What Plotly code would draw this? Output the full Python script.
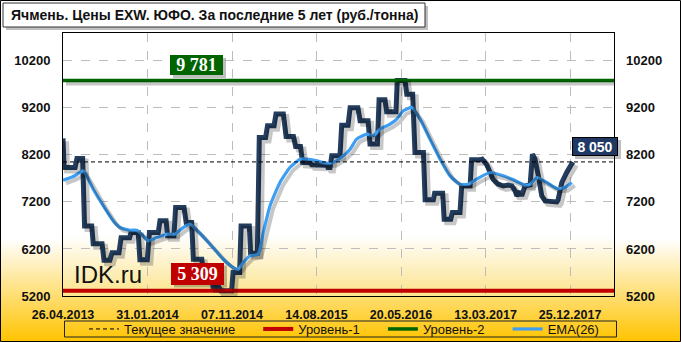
import plotly.graph_objects as go

# ---------------- data ----------------
tick_idx = [0, 40, 80, 120, 160, 200, 240]
tick_dates = ["26.04.2013", "31.01.2014", "07.11.2014", "14.08.2015",
              "20.05.2016", "13.03.2017", "25.12.2017"]
y_ticks = [5200, 6200, 7200, 8200, 9200, 10200]

price_idx = [0, 0.5, 5.7, 6.6, 9.3, 10.2, 13.6, 14.3, 18.5, 19.4, 22.2, 23.2, 26.5, 27.5,
             31.5, 32.2, 35.6, 36.4, 39.9, 40.9, 45.1, 45.9, 48.8, 49.5, 52.5, 53.3, 57.3,
             58.3, 60.9, 61.7, 65.7, 66.5, 70.1, 71.0, 73.8, 74.6, 79.8, 80.5, 83.6, 84.3,
             88.2, 88.8, 92.0, 92.9, 95.9, 96.8, 99.9, 100.8, 104.3, 105.6, 109.1, 110.1,
             112.4, 113.4, 116.9, 117.7, 124.8, 125.4, 126.4, 127.2, 131.1, 131.9, 134.9,
             135.9, 139.6, 140.6, 144.4, 145.3, 148.8, 149.6, 152.4, 153.2, 157.6, 158.2,
             161.9, 162.7, 165.5, 166.6, 170.6, 171.4, 175.3, 175.9, 179.7, 180.4, 183.5,
             184.3, 187.9, 188.7, 192.7, 193.4, 197.4, 198.4, 200.6, 202.1, 203.5, 205.9,
             208.3, 210.7, 212.5, 214.0, 214.8, 216.3, 217.1, 218.7, 221.1, 222.2, 223.4,
             225.0, 226.6, 228.2, 230.5, 233.7, 234.3, 236.1, 238.4, 241.3]
price_val = [8550, 7930, 7930, 8120, 8120, 6690, 6690, 6310, 6310, 5960, 5960, 6120, 6120, 6440,
             6440, 6550, 6550, 5970, 5970, 6550, 6550, 6800, 6800, 6480, 6480, 7080, 7080,
             6760, 6760, 5980, 5980, 5700, 5700, 5390, 5390, 5309, 5309, 5700, 5700, 6690,
             6690, 6110, 6110, 8570, 8570, 8820, 8820, 9066, 9066, 8590, 8590, 8380,
             8380, 8040, 8030, 7990, 7980, 7930, 7930, 8180, 8180, 8830, 8830,
             9200, 9200, 8925, 8925, 8430, 8430, 9370, 9370, 9116, 9116, 9781,
             9781, 9490, 9490, 8250, 8250, 7244, 7244, 7386, 7386, 6832, 6832,
             6974, 6974, 7542, 7542, 8095, 8095, 8109, 7990, 7860, 7683, 7577,
             7541, 7560, 7541, 7435, 7329, 7420, 7329, 7541, 7560, 8215, 8109,
             7754, 7329, 7222, 7222, 7200, 7240, 7612, 7825, 8050]

ema_idx = [0, 4.9, 9.6, 14.3, 19.1, 23.8, 27.0, 31.7, 34.9, 38.0, 40.4, 44.4, 49.1, 53.0,
           56.9, 60.1, 64.9, 69.6, 75.9, 80.6, 83.0, 85.3, 88.5, 92.4, 94.8, 98.0, 102.7,
           107.4, 112.2, 115.4, 120.1, 124.8, 128.0, 132.7, 135.9, 139.0, 143.8, 146.9,
           150.1, 154.8, 158.0, 161.1, 165.1, 169.0, 173.7, 178.5, 183.2, 187.9, 191.9,
           195.8, 202.1, 208.4, 213.2, 218.7, 221.1, 224.3, 229.0, 233.7, 237.6, 240.8]
ema_val = [7660, 7740, 7860, 7470, 7116, 6796, 6655, 6598, 6598, 6477, 6371, 6442, 6513, 6513,
           6655, 6726, 6530, 6300, 5981, 5804, 5768, 5910, 6052, 6087, 6548, 7116, 7612,
           7931, 8108, 8108, 8073, 8023, 8038, 8179, 8321, 8534, 8640, 8605,
           8747, 8853, 8959, 9136, 9207, 8959, 8534, 8108, 7754, 7577, 7577,
           7683, 7825, 7754, 7669, 7556, 7570, 7719, 7612, 7485, 7506, 7612]

current_value = 8050
level_1 = 5309
level_2 = 9781

title_text = "Ячмень. Цены EXW. ЮФО. За последние 5 лет (руб./тонна)"
legend_names = ["Текущее значение", "Уровень-1", "Уровень-2", "EMA(26)"]

# ---------------- geometry / style ----------------
W_FIG, H_FIG = 681, 342
L, R, T, B = 63, 614, 33, 296
PW, PH = R - L, B - T
X_RANGE = [0, 260.8]
Y_RANGE = [5200, 10790]


def px(x):
    return (x - L) / PW


def py(y):
    return (B - y) / PH


SH = 3  # shadow offset in px
kx = (X_RANGE[1] - X_RANGE[0]) / PW
ky = (Y_RANGE[1] - Y_RANGE[0]) / PH

C_PRICE = "#233D5E"
C_EMA = "#3E9EF2"
C_GREEN = "#006400"
C_RED = "#C00000"
SHADOW = "rgba(0,0,0,0.22)"

fig = go.Figure()

# shadows (drawn through shifted invisible axes)
for xs, ys, w in [(X_RANGE, [level_2] * 2, 4), (price_idx, price_val, 6), (ema_idx, ema_val, 4)]:
    fig.add_trace(go.Scatter(x=xs, y=ys, mode="lines", xaxis="x2", yaxis="y3",
                             line=dict(color=SHADOW, width=w), showlegend=False,
                             hoverinfo="skip"))

fig.add_trace(go.Scatter(x=price_idx, y=price_val, mode="lines",
                         line=dict(color=C_PRICE, width=5), showlegend=False, name="Цена"))

fig.add_trace(go.Scatter(x=X_RANGE, y=[current_value] * 2, mode="lines", yaxis="y2",
                         line=dict(color="black", width=1, dash="4px,3px"),
                         name=legend_names[0] + "\u00a0" * 5))
fig.add_trace(go.Scatter(x=X_RANGE, y=[level_1] * 2, mode="lines",
                         line=dict(color=C_RED, width=4), name=legend_names[1] + "\u00a0" * 5))
fig.add_trace(go.Scatter(x=X_RANGE, y=[level_2] * 2, mode="lines",
                         line=dict(color=C_GREEN, width=3.5), name=legend_names[2] + "\u00a0" * 5))
fig.add_trace(go.Scatter(x=ema_idx, y=ema_val, mode="lines",
                         line=dict(color=C_EMA, width=3.2, shape="spline", smoothing=0.5),
                         name=legend_names[3]))

shapes = []
# outer background gradient
n = 34
y0p, y1p = 240, 342
for i in range(n):
    a = y0p + (y1p - y0p) * i / n
    b = y0p + (y1p - y0p) * (i + 1) / n
    f = (i + 0.5) / n
    col = f"rgb(255,{int(255 - 59 * f)},{int(255 - 255 * f)})"
    shapes.append(dict(type="rect", xref="paper", yref="paper", layer="below",
                       x0=px(0), x1=px(W_FIG), y0=py(b), y1=py(a) + 0.002,
                       fillcolor=col, line=dict(width=0)))
# inner plot gradient
n = 20
y0p, y1p = 236, 296
for i in range(n):
    a = y0p + (y1p - y0p) * i / n
    b = y0p + (y1p - y0p) * (i + 1) / n
    f = (i + 0.5) / n
    col = f"rgb({int(255 - 2 * f)},{int(255 - 27 * f)},{int(255 - 115 * f)})"
    shapes.append(dict(type="rect", xref="paper", yref="paper", layer="below",
                       x0=0, x1=1, y0=py(b), y1=py(a) + 0.002,
                       fillcolor=col, line=dict(width=0)))
# title box + shadow
shapes.append(dict(type="rect", xref="paper", yref="paper", layer="above",
                   x0=px(6), x1=px(428), y0=py(30), y1=py(6),
                   fillcolor="rgba(0,0,0,0.25)", line=dict(width=0)))
shapes.append(dict(type="rect", xref="paper", yref="paper", layer="above",
                   x0=px(3), x1=px(425), y0=py(27), y1=py(3),
                   fillcolor="white", line=dict(color="#333", width=1)))
# legend box
shapes.append(dict(type="rect", xref="paper", yref="paper", layer="above",
                   x0=px(64.5), x1=px(616.5), y0=py(337), y1=py(321),
                   fillcolor="rgba(0,0,0,0)", line=dict(color="#222", width=1)))
# outer frame
shapes.append(dict(type="rect", xref="paper", yref="paper", layer="above",
                   x0=px(0.5), x1=px(W_FIG - 0.5), y0=py(H_FIG - 0.5), y1=py(0.5),
                   fillcolor="rgba(0,0,0,0)", line=dict(color="black", width=1)))


def fmt(v):
    return f"{v:,}".replace(",", " ")


annotations = [
    dict(text=f"<b>{title_text}</b>", xref="paper", yref="paper", x=px(9), y=py(15.5),
         xanchor="left", yanchor="middle", showarrow=False,
         font=dict(family="Liberation Sans", size=14, color="#111")),
    dict(text="IDK.ru", xref="paper", yref="paper", x=px(72), y=py(274.5),
         xanchor="left", yanchor="middle", showarrow=False,
         font=dict(family="Liberation Sans", size=24, color="#111")),
]
for val, cx, cy, w, h, bg, fam, fs, border in [
    (level_2, 196.5, 65, 53, 20, C_GREEN, "Liberation Serif", 18, None),
    (level_1, 197.5, 273.5, 53, 22, C_RED, "Liberation Serif", 18, None),
    (current_value, 595, 146.5, 46, 19, "#1F3864", "Liberation Sans", 14, "black"),
]:
    shapes.append(dict(type="rect", xref="paper", yref="paper", layer="above",
                       x0=px(cx - w / 2 + 3), x1=px(cx + w / 2 + 3),
                       y0=py(cy + h / 2 + 3), y1=py(cy - h / 2 + 3),
                       fillcolor="rgba(0,0,0,0.25)", line=dict(width=0)))
    annotations.append(dict(text=f"<b>{fmt(val)}</b>", xref="paper", yref="paper",
                            x=px(cx), y=py(cy), xanchor="center", yanchor="middle",
                            width=w - 2, height=h - 2, showarrow=False,
                            bgcolor=bg, borderpad=0,
                            bordercolor=border if border else bg, borderwidth=1,
                            font=dict(family=fam, size=fs, color="white")))

tickfont = dict(family="Liberation Sans", size=13, color="#111", weight="bold")
grid = dict(showgrid=True, gridcolor="#BDBDBD", gridwidth=1, griddash="dash")

fig.update_layout(
    width=W_FIG, height=H_FIG, autosize=False,
    margin=dict(l=L, r=W_FIG - R, t=T, b=H_FIG - B, pad=0, autoexpand=False),
    paper_bgcolor="white", plot_bgcolor="rgba(0,0,0,0)",
    xaxis=dict(range=X_RANGE, tickmode="array", tickvals=tick_idx, ticktext=tick_dates,
               showline=True, mirror=True, linecolor="black", linewidth=1, ticks="",
               zeroline=False, ticklabelstandoff=7, automargin=False,
               tickfont=dict(family="Liberation Sans", size=12.5, color="#111", weight="bold"),
               **grid),
    yaxis=dict(range=Y_RANGE, tickmode="array", tickvals=y_ticks,
               ticktext=[str(v) for v in y_ticks], showline=True, mirror=True,
               linecolor="black", linewidth=1, ticks="", zeroline=False, automargin=False,
               ticklabelstandoff=9, tickfont=tickfont, **grid),
    yaxis2=dict(range=Y_RANGE, overlaying="y", side="right", tickmode="array",
                tickvals=y_ticks, ticktext=[str(v) for v in y_ticks], automargin=False,
                showgrid=False, zeroline=False, ticks="",
                ticklabelstandoff=11, tickfont=tickfont),
    xaxis2=dict(range=[X_RANGE[0] - SH * kx, X_RANGE[1] - SH * kx], overlaying="x",
                visible=False),
    yaxis3=dict(range=[Y_RANGE[0] + SH * ky, Y_RANGE[1] + SH * ky], overlaying="y",
                visible=False),
    legend=dict(orientation="h", x=px(84), xanchor="left", y=py(329), yanchor="middle",
                bgcolor="rgba(0,0,0,0)", borderwidth=0,
                font=dict(family="Liberation Sans", size=13, color="#111"),
                itemwidth=30, tracegroupgap=0),
    shapes=shapes,
    annotations=annotations,
    showlegend=True,
)

fig.write_html("out.html")
